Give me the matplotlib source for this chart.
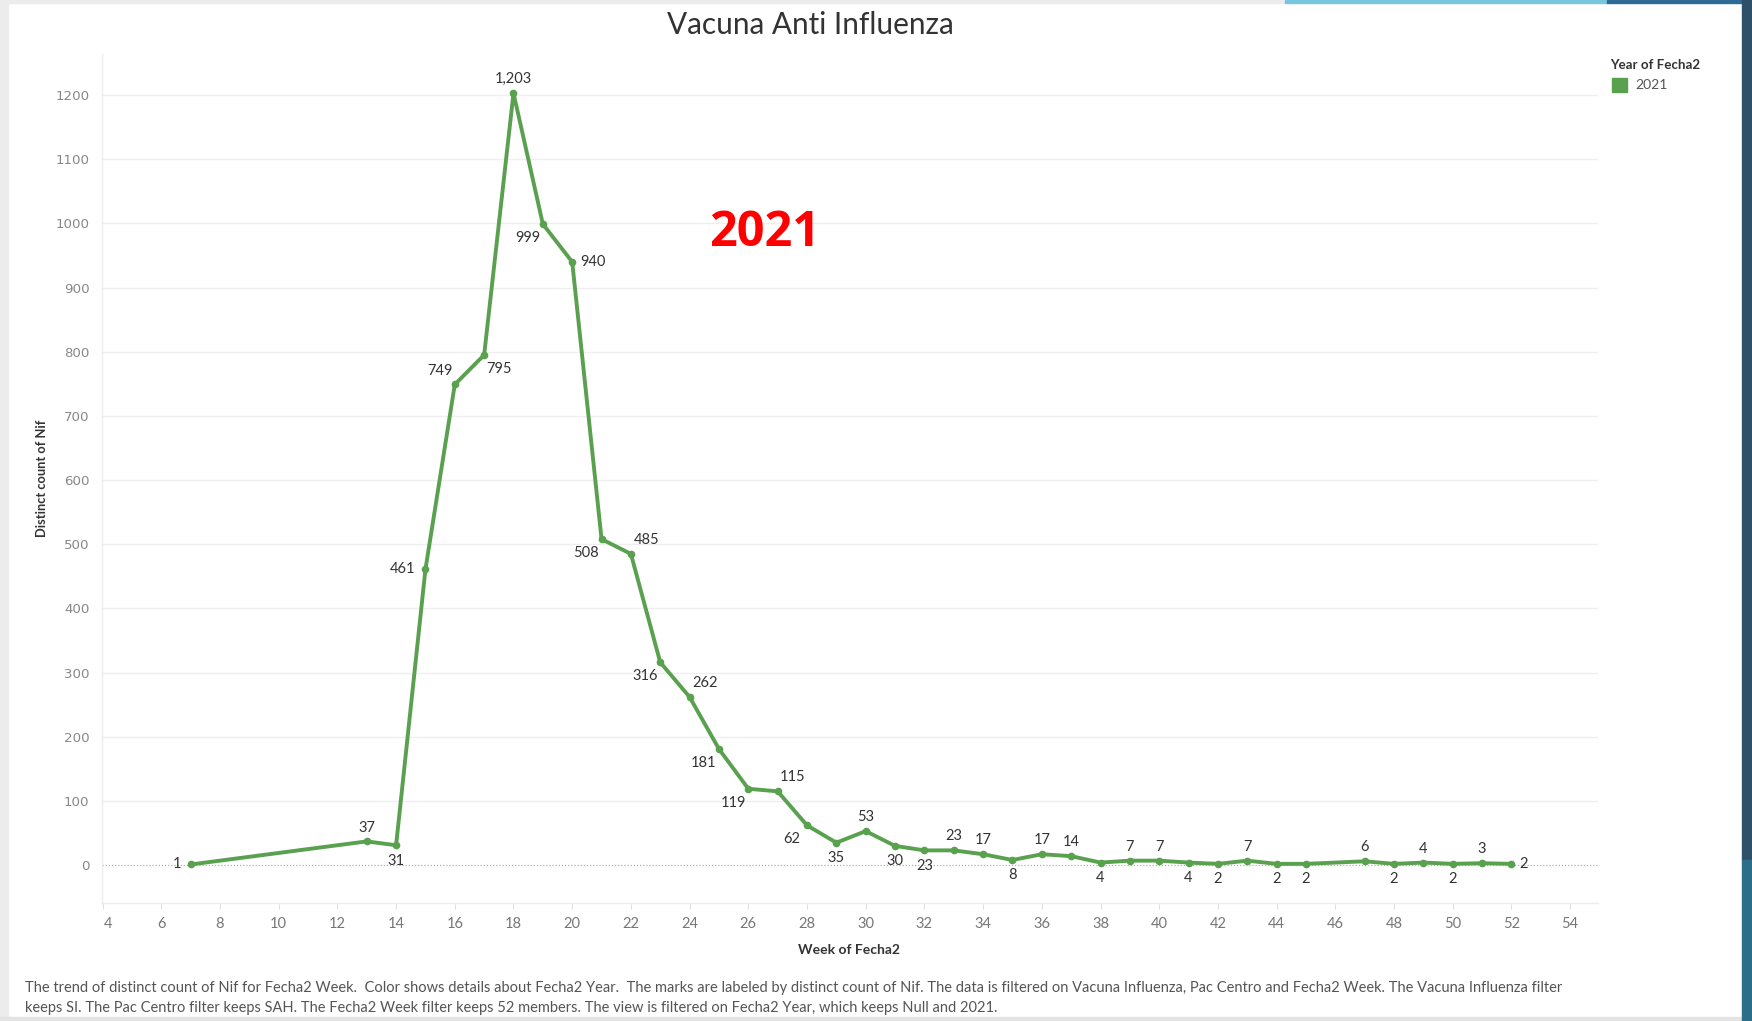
import matplotlib
matplotlib.use("Agg")
import matplotlib.pyplot as plt
import matplotlib.transforms as mtransforms
from matplotlib.patches import Rectangle

weeks = [7, 13, 14, 15, 16, 17, 18, 19, 20, 21, 22, 23, 24, 25, 26, 27, 28, 29, 30,
         31, 32, 33, 34, 35, 36, 37, 38, 39, 40, 41, 42, 43, 44, 45, 47, 48, 49, 50, 51, 52]
counts = [1, 37, 31, 461, 749, 795, 1203, 999, 940, 508, 485, 316, 262, 181, 119, 115, 62, 35, 53,
          30, 23, 23, 17, 8, 17, 14, 4, 7, 7, 4, 2, 7, 2, 2, 6, 2, 4, 2, 3, 2]
label_side = ['L', 'A', 'B', 'L', 'AL', 'BR', 'A', 'BL', 'R', 'BL', 'AR', 'BL', 'AR', 'BL', 'BL', 'AR', 'BL', 'B', 'A',
              'B', 'B', 'A', 'A', 'B', 'A', 'A', 'B', 'A', 'A', 'B', 'B', 'A', 'B', 'B', 'A', 'B', 'A', 'B', 'A', 'R']
x_ticks = list(range(4, 56, 2))
y_ticks = list(range(0, 1300, 100))

title = "Vacuna Anti Influenza"
x_title = "Week of Fecha2"
y_title = "Distinct count of Nif"
legend_title = "Year of Fecha2"
series_name = "2021"
caption = ("The trend of distinct count of Nif for Fecha2 Week.  Color shows details about Fecha2 Year.  "
           "The marks are labeled by distinct count of Nif. The data is filtered on Vacuna Influenza, Pac Centro "
           "and Fecha2 Week. The Vacuna Influenza filter\n"
           "keeps SI. The Pac Centro filter keeps SAH. The Fecha2 Week filter keeps 52 members. "
           "The view is filtered on Fecha2 Year, which keeps Null and 2021.")

GREEN = "#59a14f"
W, H = 1752, 1021
fig = plt.figure(figsize=(W / 100, H / 100), dpi=100)
fig.patch.set_facecolor("white")

def fx(px):
    return px / W

def fy(py):
    return 1 - py / H

# frame decorations
fig.patches.append(Rectangle((0, 0), fx(8), 1, transform=fig.transFigure, color="#ececec", zorder=0))
fig.patches.append(Rectangle((0, fy(3)), fx(1285), fy(0) - fy(3), transform=fig.transFigure, color="#ececec", zorder=0))
fig.patches.append(Rectangle((fx(1285), fy(3)), fx(1607 - 1285), fy(0) - fy(3), transform=fig.transFigure, color="#76c6e0", zorder=0))
fig.patches.append(Rectangle((fx(1607), fy(3)), fx(1752 - 1607), fy(0) - fy(3), transform=fig.transFigure, color="#2e6c97", zorder=0))
fig.patches.append(Rectangle((0, 0), fx(1743), fy(1017), transform=fig.transFigure, color="#e3e3e3", zorder=0))
fig.patches.append(Rectangle((fx(1742), fy(860)), fx(10), 1, transform=fig.transFigure, color="#2e5068", zorder=0))
fig.patches.append(Rectangle((fx(1742), 0), fx(10), fy(860), transform=fig.transFigure, color="#2a6e8a", zorder=0))

ax = fig.add_axes([fx(102), fy(903), fx(1598 - 102), fy(54) - fy(903)])
ax.set_facecolor("white")
ax.set_xlim(3.98, 54.95)
ax.set_ylim(-59, 1264)

for v in y_ticks:
    if v == 0:
        ax.axhline(v, color="#b0b0b0", lw=0.9, ls=(0, (1, 1.5)), zorder=1)
    else:
        ax.axhline(v, color="#efefef", lw=1.0, zorder=1)

ax.plot(weeks, counts, color=GREEN, lw=2.8, marker="o", ms=4.5, zorder=3, solid_joinstyle="round")

offs = {'A': (0, 10), 'B': (0, -11), 'L': (-7, 0), 'R': (6, 0),
        'AL': (-11, 10), 'AR': (11, 10), 'BL': (-11, -10), 'BR': (11, -10)}
has = {'A': 'center', 'B': 'center', 'L': 'right', 'R': 'left',
       'AL': 'center', 'AR': 'center', 'BL': 'center', 'BR': 'center'}
for wk, c, s in zip(weeks, counts, label_side):
    dx, dy = offs[s]
    ax.annotate(f"{c:,}", (wk, c), xytext=(dx, dy), textcoords="offset points",
                ha=has[s], va="center", fontsize=10.5, family="Lato", color="#333333", zorder=4)

ax.set_xticks(x_ticks)
ax.set_xticklabels([str(t) for t in x_ticks], family="Lato", fontsize=10.5, color="#777777")
ax.set_yticks(y_ticks)
ax.set_yticklabels([str(t) for t in y_ticks], family="DejaVu Sans", fontsize=9.6, color="#888888")
ax.tick_params(axis="x", length=4, width=0.8, color="#e0e0e0", pad=6)
ax.tick_params(axis="y", length=0, pad=9)
# first x label nudged right, as in the reference
first = ax.get_xticklabels()[0]
first.set_transform(first.get_transform() + mtransforms.ScaledTranslation(5 / 100, 0, fig.dpi_scale_trans))

for side in ("top", "right"):
    ax.spines[side].set_visible(False)
ax.spines["left"].set_color("#ececec")
ax.spines["bottom"].set_color("#ececec")
ax.spines["left"].set_linewidth(1)
ax.spines["bottom"].set_linewidth(1)

# titles
fig.text(fx(810), fy(25), title, ha="center", va="center", family="Lato", fontsize=21.4, color="#333333")
fig.text(fx(849), fy(950), x_title, ha="center", va="center", family="Lato", fontweight="bold", fontsize=10, color="#333333")
fig.text(fx(42), fy(478), y_title, ha="center", va="center", rotation=90, family="Lato", fontweight="bold", fontsize=9.3, color="#333333")

ax.text(26.55, 985, "2021", ha="center", va="center", family="Open Sans", fontweight="bold", fontsize=35, color="#ff0000", zorder=5)

# legend
fig.text(fx(1610), fy(65), legend_title, ha="left", va="center", family="Lato", fontweight="bold", fontsize=9.6, color="#333333")
fig.patches.append(Rectangle((fx(1612), fy(92)), fx(15), fy(78) - fy(92), transform=fig.transFigure, color=GREEN, zorder=2))
fig.text(fx(1635), fy(85), series_name, ha="left", va="center", family="Lato", fontsize=10, color="#555555")

# caption
fig.text(fx(25), fy(998), caption, ha="left", va="center", family="Lato", fontsize=10.5, color="#555555", linespacing=1.5)

fig.savefig("out.png", dpi=100)
